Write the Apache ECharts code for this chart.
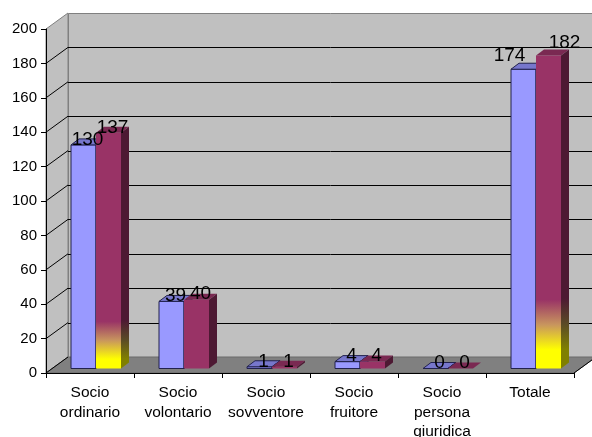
<!DOCTYPE html>
<html>
<head>
<meta charset="utf-8">
<script src="https://cdn.jsdelivr.net/npm/echarts@6/dist/echarts.min.js"></script>
<style>
  html, body { margin: 0; padding: 0; background: #fff; }
  #chart { width: 592px; height: 437px; }
</style>
</head>
<body>
<div id="chart"></div>
<script>
// Categories and the two series of member counts
const categories = ['Socio\nordinario', 'Socio\nvolontario', 'Socio\nsovventore', 'Socio\nfruitore', 'Socio\npersona\ngiuridica', 'Totale'];
const sociPrima = [130, 39, 1, 4, 0, 174];
const sociDopo = [137, 40, 1, 4, 0, 182];
const valueTicks = [0, 20, 40, 60, 80, 100, 120, 140, 160, 180, 200];

// Oblique 3D look: depth of the walls, depth of the columns
const DX = 22, DY = -16;          // wall depth
const OX = 6, OY = -4.5;          // front plane of the columns
const BDX = 8, BDY = -6;          // column depth
const BAR_RATIO = 25 / 88;        // column width relative to a category band
const FONT = '"Liberation Sans", Arial, sans-serif';

const BLUE = { front: '#9999FF', top: '#7777CC', side: '#4D4D80', stroke: '#22224D' };
const MAROON = { front: '#993366', top: '#7A2952', side: '#4D1933' };
// Gradient fill (maroon to yellow) on selected columns: [start, end] as fractions from the top
const fadeStops = { 0: [0.80, 0.96], 5: [0.78, 0.94] };
// Labels pulled apart on the tall "Totale" pair so they do not collide: [dx, dy] per series
const labelNudge = { 5: [[-18, -8], [12, -7]] };

const snap = v => Math.round(v) + 0.5;

function renderFrame(params, api) {
  const cs = params.coordSys;
  const x0 = cs.x, x1 = cs.x + cs.width, y0 = cs.y, y1 = cs.y + cs.height;
  const ch = [];
  // back wall
  ch.push({ type: 'rect', shape: { x: snap(x0 + DX), y: snap(y0 + DY), width: Math.round(cs.width), height: Math.round(cs.height) },
    style: { fill: '#C0C0C0', stroke: '#808080', lineWidth: 1 } });
  // left wall
  ch.push({ type: 'polygon', shape: { points: [[x0, y0], [x0 + DX, y0 + DY], [x0 + DX, y1 + DY], [x0, y1]] },
    style: { fill: '#C0C0C0', stroke: '#808080', lineWidth: 1 } });
  // gridlines on back and left walls
  valueTicks.forEach(v => {
    if (v === valueTicks[0] || v === valueTicks[valueTicks.length - 1]) return;
    const y = api.coord([0, v])[1];
    ch.push({ type: 'line', shape: { x1: x0 + DX, y1: snap(y + DY), x2: x1 + DX, y2: snap(y + DY) }, style: { stroke: '#000', lineWidth: 1 } });
    ch.push({ type: 'line', shape: { x1: x0, y1: y, x2: x0 + DX, y2: y + DY }, style: { stroke: '#000', lineWidth: 1 } });
  });
  // floor
  ch.push({ type: 'polygon', shape: { points: [[x0, y1], [x1, y1], [x1 + DX, y1 + DY], [x0 + DX, y1 + DY]] },
    style: { fill: '#808080', stroke: '#6a6a6a', lineWidth: 1 } });
  ch.push({ type: 'line', shape: { x1: x0, y1: y1, x2: x0 + DX, y2: y1 + DY }, style: { stroke: '#000', lineWidth: 1 } });
  ch.push({ type: 'line', shape: { x1: x1, y1: y1, x2: x1 + DX, y2: y1 + DY }, style: { stroke: '#000', lineWidth: 1 } });
  return { type: 'group', children: ch };
}

function column(x, yTop, yBase, w, pal, fade) {
  const out = [];
  let frontFill = pal.front, sideFill = pal.side;
  if (fade) {
    frontFill = { type: 'linear', x: 0, y: 0, x2: 0, y2: 1, colorStops: [
      { offset: 0, color: pal.front }, { offset: fade[0], color: pal.front },
      { offset: (fade[0] + fade[1]) / 2, color: '#C8955E' },
      { offset: fade[1], color: '#FFFF00' }, { offset: 1, color: '#FFFF00' }] };
    sideFill = { type: 'linear', x: 0, y: 0, x2: 0, y2: 1, colorStops: [
      { offset: 0, color: pal.side }, { offset: fade[0], color: pal.side },
      { offset: (fade[0] + fade[1]) / 2, color: '#5A4A26' },
      { offset: fade[1], color: '#808000' }, { offset: 1, color: '#808000' }] };
  }
  const stroke = pal.stroke || null;
  out.push({ type: 'rect', shape: { x: x, y: yTop, width: w, height: Math.max(0, yBase - yTop) },
    style: { fill: frontFill, stroke: stroke, lineWidth: 1 } });
  out.push({ type: 'polygon', shape: { points: [[x, yTop], [x + w, yTop], [x + w + BDX, yTop + BDY], [x + BDX, yTop + BDY]] },
    style: { fill: pal.top, stroke: stroke, lineWidth: 1 } });
  out.push({ type: 'polygon', shape: { points: [[x + w, yTop], [x + w + BDX, yTop + BDY], [x + w + BDX, yBase + BDY], [x + w, yBase]] },
    style: { fill: sideFill, stroke: stroke, lineWidth: 1 } });
  return out;
}

function renderBars(params, api) {
  const i = api.value(0);
  const vals = [api.value(1), api.value(2)];
  const band = api.size([1, 0])[0];
  const w = band * BAR_RATIO;
  const cx = api.coord([i, 0])[0];
  const base = api.coord([i, 0])[1] + OY;
  const pals = [BLUE, MAROON];
  const ch = [];
  const labels = [];
  vals.forEach((v, s) => {
    const x = cx - w + s * w + OX;
    const yTop = api.coord([i, v])[1] + OY;
    ch.push(...column(x, yTop, base, w, pals[s], s === 1 ? fadeStops[i] : null));
    const nudge = labelNudge[i] ? labelNudge[i][s] : [0, 0];
    labels.push({ type: 'text', x: x + w / 2 + BDX / 2 + nudge[0], y: yTop - 5.5 + nudge[1],
      style: { text: String(v), fill: '#000', fontSize: 19, fontFamily: FONT, align: 'center', verticalAlign: 'middle' } });
  });
  return { type: 'group', children: ch.concat(labels) };
}

const chart = echarts.init(document.getElementById('chart'), null, { renderer: 'canvas' });
chart.setOption({
  animation: false,
  backgroundColor: '#fff',
  grid: { left: 46, top: 29, width: 528, height: 344, containLabel: false, outerBoundsMode: 'none' },
  xAxis: {
    type: 'category', data: categories, boundaryGap: true, z: 5,
    axisLine: { lineStyle: { color: '#000', width: 1 } },
    axisTick: { show: true, length: 5, lineStyle: { color: '#000' } },
    axisLabel: { color: '#000', fontSize: 15.5, fontFamily: FONT, lineHeight: 19.5, margin: 10, interval: 0 },
    splitLine: { show: false }
  },
  yAxis: {
    type: 'value', min: valueTicks[0], max: valueTicks[valueTicks.length - 1], interval: valueTicks[1] - valueTicks[0], z: 5,
    axisLine: { show: true, lineStyle: { color: '#000', width: 1 } },
    axisTick: { show: true, length: 5, lineStyle: { color: '#000' } },
    axisLabel: { color: '#000', fontSize: 15, fontFamily: FONT, margin: 9 },
    splitLine: { show: false }
  },
  series: [
    { type: 'custom', name: 'frame', z: 1, clip: false, silent: true, renderItem: renderFrame, data: [[0, 0]] },
    { type: 'custom', name: 'soci', z: 3, clip: false, renderItem: renderBars,
      encode: { x: 0, y: [1, 2] },
      data: categories.map((c, i) => [i, sociPrima[i], sociDopo[i]]) }
  ]
});
</script>
</body>
</html>
